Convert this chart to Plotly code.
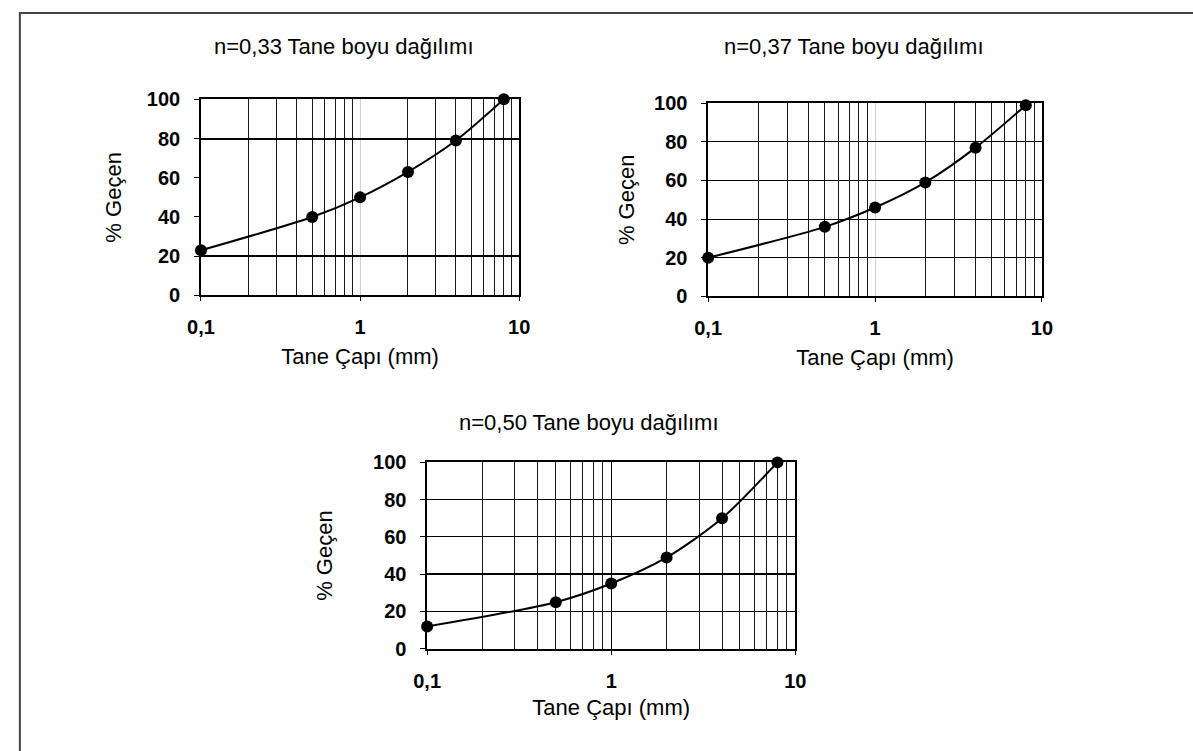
import plotly.graph_objects as go

W, H = 1193, 751

# ---- data ----
grain_size_mm = [0.1, 0.5, 1, 2, 4, 8]
passing_n033 = [23, 40, 50, 63, 79, 100]
passing_n037 = [20, 36, 46, 59, 77, 99]
passing_n050 = [12, 25, 35, 49, 70, 100]
titles = ["n=0,33 Tane boyu dağılımı", "n=0,37 Tane boyu dağılımı", "n=0,50 Tane boyu dağılımı"]
x_title = "Tane Çapı (mm)"
y_title = "% Geçen"
y_ticks = [0, 20, 40, 60, 80, 100]

FONT = "Liberation Sans, Arial, sans-serif"


def xd(a, b):
    return [a / W, b / W]


def yd(top, bottom):
    return [1 - bottom / H, 1 - top / H]


fig = go.Figure()

series = [passing_n033, passing_n037, passing_n050]
for i, ys in enumerate(series):
    sfx = "" if i == 0 else str(i + 1)
    fig.add_trace(go.Scatter(
        x=grain_size_mm, y=ys, mode="lines+markers",
        line=dict(color="black", width=2, shape="spline", smoothing=0.8),
        marker=dict(color="black", size=12),
        xaxis="x" + sfx, yaxis="y" + sfx, showlegend=False, cliponaxis=False,
    ))

# empty helper traces so the overlay grid axes exist
fig.add_trace(go.Scatter(x=[None], y=[None], xaxis="x", yaxis="y4", showlegend=False, hoverinfo="skip"))
fig.add_trace(go.Scatter(x=[None], y=[None], xaxis="x3", yaxis="y5", showlegend=False, hoverinfo="skip"))

domains = [
    (xd(191, 516), yd(91, 293)),
    (xd(709, 1050), yd(95, 294)),
    (xd(422, 798), yd(465, 657)),
]
ystand = [19, 13, 34]
xstand = [11, 11, 9]
major_grid = ["#d0d0d0", "#d0d0d0", "black"]
ygrid_show = [False, True, True]

layout = dict(
    width=W, height=H, margin=dict(l=0, r=0, t=0, b=0),
    paper_bgcolor="white", plot_bgcolor="white",
    separators=", ",
    font=dict(family=FONT, color="black"),
)

for i, (dx, dy) in enumerate(domains):
    sfx = "" if i == 0 else str(i + 1)
    layout["xaxis" + sfx] = dict(
        type="log", range=[-1, 1], domain=dx, anchor="y" + sfx,
        dtick=1, tick0=0, showline=True, mirror=True, linecolor="black", linewidth=1.5,
        ticks="outside", ticklen=4, tickcolor="black",
        showgrid=True, gridcolor=major_grid[i], gridwidth=1.2,
        minor=dict(dtick="D1", showgrid=True, gridcolor="#1a1a1a", gridwidth=1.2, ticks=""),
        zeroline=False, ticklabelstandoff=9,
        tickfont=dict(size=20, family=FONT, weight="bold"),
        title=dict(text=x_title, font=dict(size=22), standoff=xstand[i]),
    )
    layout["yaxis" + sfx] = dict(
        range=[0, 100], domain=dy, anchor="x" + sfx, tickvals=y_ticks,
        showline=True, mirror=True, linecolor="black", linewidth=1.5,
        ticks="outside", ticklen=5, tickcolor="black",
        showgrid=ygrid_show[i], gridcolor="black", gridwidth=1.2,
        zeroline=False, ticklabelstandoff=10,
        tickfont=dict(size=20, family=FONT, weight="bold"),
        title=dict(text=y_title, font=dict(size=22), standoff=ystand[i]),
    )

layout["yaxis4"] = dict(
    overlaying="y", anchor="x", range=[0, 100], tickvals=[20, 80],
    showticklabels=False, ticks="", showline=False, zeroline=False,
    showgrid=True, gridcolor="black", gridwidth=2,
)
layout["yaxis5"] = dict(
    overlaying="y3", anchor="x3", range=[0, 100], tickvals=[40],
    showticklabels=False, ticks="", showline=False, zeroline=False,
    showgrid=True, gridcolor="black", gridwidth=2,
)

title_pos = [(337, 37), (858, 37), (587, 424)]
annotations = []
for t, (px, py) in zip(titles, title_pos):
    annotations.append(dict(
        text=t, x=px / W, y=1 - py / H, xref="paper", yref="paper",
        xanchor="center", yanchor="middle", showarrow=False,
        font=dict(size=22, family=FONT, color="black"),
    ))
layout["annotations"] = annotations

layout["shapes"] = [dict(
    type="rect", xref="paper", yref="paper",
    x0=6 / W, x1=1.05, y0=-0.05, y1=1 - 2 / H,
    line=dict(color="#444444", width=2), fillcolor="rgba(0,0,0,0)", layer="above",
)]

fig.update_layout(**layout)
fig.write_html("out.html")
